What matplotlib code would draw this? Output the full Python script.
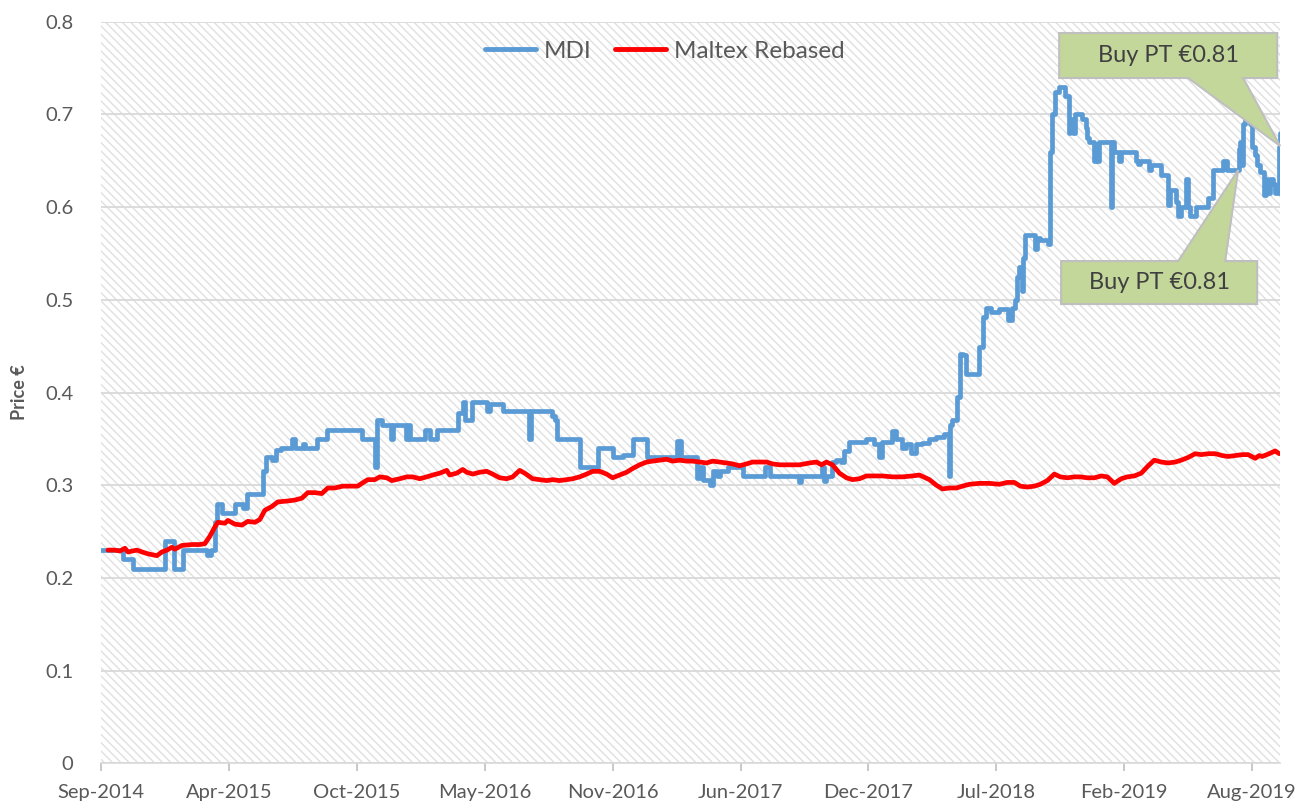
import matplotlib
matplotlib.use("Agg")
import matplotlib.pyplot as plt
from matplotlib.patches import Rectangle, Polygon
from matplotlib.lines import Line2D

plt.rcParams['font.family'] = ['Lato', 'DejaVu Sans']
plt.rcParams['hatch.linewidth'] = 1.0

# Eje de categorias: un punto por sesion, etiqueta cada 128 sesiones
tick_labels = ['Sep-2014', 'Apr-2015', 'Oct-2015', 'May-2016', 'Nov-2016',
               'Jun-2017', 'Dec-2017', 'Jul-2018', 'Feb-2019', 'Aug-2019']
tick_step = 128
n_sessions = 1180

# MDI: sesion en la que cambia el precio y nuevo precio (EUR)
mdi_day = [0, 22, 32, 64, 73, 82, 106, 110, 114, 116, 121, 134, 142, 146, 162, 165, 171, 175, 180,
           191, 194, 202, 204, 216, 226, 261, 274, 276, 281, 290, 292, 305, 307, 309, 324, 329, 336,
           357, 362, 364, 371, 386, 389, 402, 428, 430, 451, 454, 456, 479, 497, 512, 522, 532, 546,
           576, 580, 596, 599, 602, 609, 612, 616, 619, 627, 642, 664, 669, 699, 701, 722, 724, 726,
           732, 736, 741, 744, 749, 766, 774, 779, 782, 792, 796, 802, 806, 811, 816, 822, 829, 836,
           844, 849, 850, 852, 857, 860, 863, 866, 879, 883, 886, 891, 899, 908, 912, 915, 917, 919,
           922, 923, 925, 935, 937, 940, 948, 950, 952, 955, 959, 965, 969, 970, 973, 975, 982, 986,
           987, 989, 994, 996, 997, 999, 1011, 1012, 1014, 1019, 1021, 1036, 1038, 1040, 1049, 1051,
           1061, 1068, 1070, 1076, 1078, 1081, 1086, 1088, 1090, 1096, 1108, 1113, 1123, 1127, 1139,
           1140, 1142, 1143, 1145, 1150, 1152, 1155, 1157, 1160, 1164, 1166, 1167, 1170, 1173, 1175,
           1179, 1180]
mdi_price = [0.23, 0.22, 0.21, 0.24, 0.21, 0.23, 0.225, 0.23, 0.26, 0.28, 0.27, 0.28, 0.275, 0.29,
             0.315, 0.33, 0.327, 0.338, 0.34, 0.35, 0.34, 0.345, 0.34, 0.35, 0.36, 0.35, 0.32, 0.37,
             0.365, 0.35, 0.365, 0.35, 0.365, 0.35, 0.36, 0.35, 0.36, 0.378, 0.39, 0.37, 0.39, 0.38,
             0.388, 0.38, 0.35, 0.38, 0.375, 0.37, 0.35, 0.32, 0.34, 0.33, 0.333, 0.35, 0.33, 0.348,
             0.33, 0.308, 0.32, 0.306, 0.30, 0.315, 0.31, 0.315, 0.32, 0.31, 0.32, 0.31, 0.303, 0.31,
             0.32, 0.305, 0.31, 0.325, 0.327, 0.325, 0.337, 0.347, 0.35, 0.345, 0.33, 0.347, 0.358,
             0.35, 0.34, 0.345, 0.335, 0.345, 0.346, 0.35, 0.352, 0.355, 0.31, 0.365, 0.37, 0.395,
             0.442, 0.44, 0.42, 0.449, 0.481, 0.491, 0.487, 0.49, 0.478, 0.491, 0.50, 0.525, 0.535,
             0.51, 0.545, 0.57, 0.555, 0.567, 0.565, 0.56, 0.66, 0.70, 0.724, 0.73, 0.72, 0.68, 0.695,
             0.68, 0.70, 0.695, 0.685, 0.675, 0.67, 0.65, 0.668, 0.65, 0.67, 0.60, 0.67, 0.66, 0.65,
             0.66, 0.65, 0.647, 0.65, 0.64, 0.645, 0.635, 0.602, 0.618, 0.605, 0.59, 0.60, 0.63, 0.60,
             0.59, 0.60, 0.61, 0.64, 0.65, 0.64, 0.663, 0.67, 0.645, 0.69, 0.70, 0.69, 0.665, 0.656,
             0.645, 0.638, 0.613, 0.63, 0.615, 0.63, 0.625, 0.615, 0.665, 0.68]

# Maltex rebased
maltex_day = [7, 14, 19, 24, 27, 36, 41, 47, 56, 61, 66, 71, 74, 81, 91, 99, 104, 109, 114, 117, 124,
              127, 134, 141, 147, 154, 159, 164, 171, 177, 187, 194, 201, 207, 214, 221, 227, 234, 242,
              251, 257, 261, 267, 274, 279, 286, 291, 299, 306, 312, 319, 326, 332, 339, 346, 349, 356,
              362, 366, 372, 379, 386, 392, 399, 406, 412, 419, 424, 432, 439, 446, 452, 459, 466, 472,
              479, 486, 492, 499, 506, 512, 519, 526, 532, 539, 546, 552, 559, 566, 572, 579, 586, 592,
              599, 606, 612, 619, 626, 632, 639, 646, 652, 659, 666, 672, 679, 686, 692, 699, 709, 716,
              721, 726, 732, 739, 746, 752, 759, 766, 772, 782, 792, 802, 812, 819, 829, 836, 842, 849,
              856, 862, 869, 879, 889, 899, 907, 914, 920, 927, 934, 940, 947, 954, 960, 967, 974, 980,
              987, 994, 1001, 1007, 1014, 1021, 1027, 1034, 1041, 1048, 1054, 1061, 1068, 1075, 1081,
              1088, 1095, 1101, 1108, 1115, 1122, 1128, 1135, 1142, 1148, 1155, 1159, 1162, 1169, 1175,
              1179]
maltex_price = [0.23, 0.23, 0.229, 0.232, 0.228, 0.23, 0.228, 0.226, 0.224, 0.228, 0.23, 0.233, 0.231,
                0.235, 0.236, 0.236, 0.237, 0.245, 0.255, 0.26, 0.259, 0.262, 0.258, 0.257, 0.261,
                0.26, 0.263, 0.273, 0.277, 0.282, 0.283, 0.284, 0.286, 0.292, 0.292, 0.291, 0.297,
                0.297, 0.299, 0.299, 0.299, 0.302, 0.306, 0.306, 0.309, 0.308, 0.305, 0.307, 0.309,
                0.309, 0.307, 0.309, 0.311, 0.313, 0.316, 0.311, 0.313, 0.317, 0.314, 0.312, 0.314,
                0.315, 0.312, 0.308, 0.307, 0.309, 0.316, 0.313, 0.307, 0.306, 0.305, 0.306, 0.305,
                0.306, 0.307, 0.309, 0.312, 0.315, 0.315, 0.312, 0.308, 0.311, 0.314, 0.318, 0.322,
                0.325, 0.326, 0.327, 0.328, 0.326, 0.327, 0.326, 0.326, 0.325, 0.324, 0.326, 0.325,
                0.324, 0.323, 0.321, 0.323, 0.325, 0.325, 0.325, 0.323, 0.322, 0.322, 0.322, 0.322,
                0.324, 0.325, 0.322, 0.325, 0.322, 0.313, 0.308, 0.306, 0.307, 0.31, 0.31, 0.31,
                0.309, 0.309, 0.31, 0.311, 0.306, 0.30, 0.296, 0.297, 0.297, 0.299, 0.301, 0.302,
                0.302, 0.301, 0.303, 0.303, 0.299, 0.298, 0.299, 0.301, 0.305, 0.312, 0.309, 0.308,
                0.309, 0.309, 0.308, 0.308, 0.31, 0.309, 0.302, 0.307, 0.309, 0.31, 0.313, 0.321,
                0.327, 0.325, 0.324, 0.325, 0.327, 0.33, 0.334, 0.333, 0.334, 0.334, 0.332, 0.331,
                0.332, 0.333, 0.333, 0.329, 0.332, 0.331, 0.334, 0.337, 0.334]

callout_text = 'Buy PT €0.81'

gris = '#595959'
fig = plt.figure(figsize=(13.01, 8.05), dpi=100)
ax = fig.add_axes([0.0776, 0.0518, 0.9064, 0.9212])

# fondo rayado
ax.add_patch(Rectangle((0, 0), 1, 1, transform=ax.transAxes, facecolor='white',
                       edgecolor='#e0e0e0', hatch='\\\\\\\\', lw=0, zorder=0))
ax.set_axisbelow(True)
ax.grid(axis='y', color='#d9d9d9', lw=1.3)

ax.plot(mdi_day, mdi_price, drawstyle='steps-post', color='#5b9bd5', lw=3.4,
        solid_joinstyle='round', solid_capstyle='round', zorder=3)
ax.plot(maltex_day, maltex_price, color='#ff0000', lw=3.4,
        solid_joinstyle='round', solid_capstyle='round', zorder=4)

ax.set_xlim(0, n_sessions)
ax.set_ylim(0, 0.8)
ax.set_xticks([i * tick_step for i in range(len(tick_labels))])
ax.set_xticklabels(tick_labels)
ax.set_yticks([i / 10 for i in range(9)])
ax.set_yticklabels(['0'] + ['%.1f' % (i / 10) for i in range(1, 9)])
ax.tick_params(axis='x', colors='#bfbfbf', labelcolor=gris, labelsize=14.5, length=6, width=1.2, pad=9)
ax.tick_params(axis='y', length=0, labelcolor=gris, labelsize=14.5, pad=20)
for s in ['top', 'right', 'left']:
    ax.spines[s].set_visible(False)
ax.spines['bottom'].set_color('#d9d9d9')
ax.spines['bottom'].set_linewidth(1.2)
ax.set_ylabel('Price €', fontsize=13, fontweight='bold', color=gris, labelpad=12)

handles = [Line2D([], [], color='#5b9bd5', lw=3.5, solid_capstyle='round'),
           Line2D([], [], color='#ff0000', lw=3.5, solid_capstyle='round')]
ax.legend(handles, ['MDI', 'Maltex Rebased'], loc='center', bbox_to_anchor=(0.478, 0.96),
          ncol=2, frameon=False, fontsize=17.5, handlelength=2.1, handletextpad=0.3,
          columnspacing=1.0, labelcolor=gris)


def callout(x0, x1, y0, y1, xa, xb, tip, arriba):
    # caja con punta, en coordenadas de ejes
    if arriba:
        pts = [(x0, y1), (x1, y1), (x1, y0), (xb, y0), tip, (xa, y0), (x0, y0)]
    else:
        pts = [(x0, y0), (x1, y0), (x1, y1), (xb, y1), tip, (xa, y1), (x0, y1)]
    ax.add_patch(Polygon(pts, closed=True, transform=ax.transAxes, facecolor='#c4d79b',
                         edgecolor='#bfbfbf', lw=1.5, zorder=6, clip_on=False))
    ax.text((x0 + x1) / 2, (y0 + y1) / 2, callout_text, transform=ax.transAxes,
            ha='center', va='center', fontsize=17, color='#404040', zorder=7)


callout(0.8126, 0.9975, 0.9241, 0.9848, 0.922, 0.9686, (1.0, 0.8324), True)
callout(0.8142, 0.9805, 0.6193, 0.6773, 0.9135, 0.9534, (0.9644, 0.800), False)

fig.savefig('out.png', dpi=100)
